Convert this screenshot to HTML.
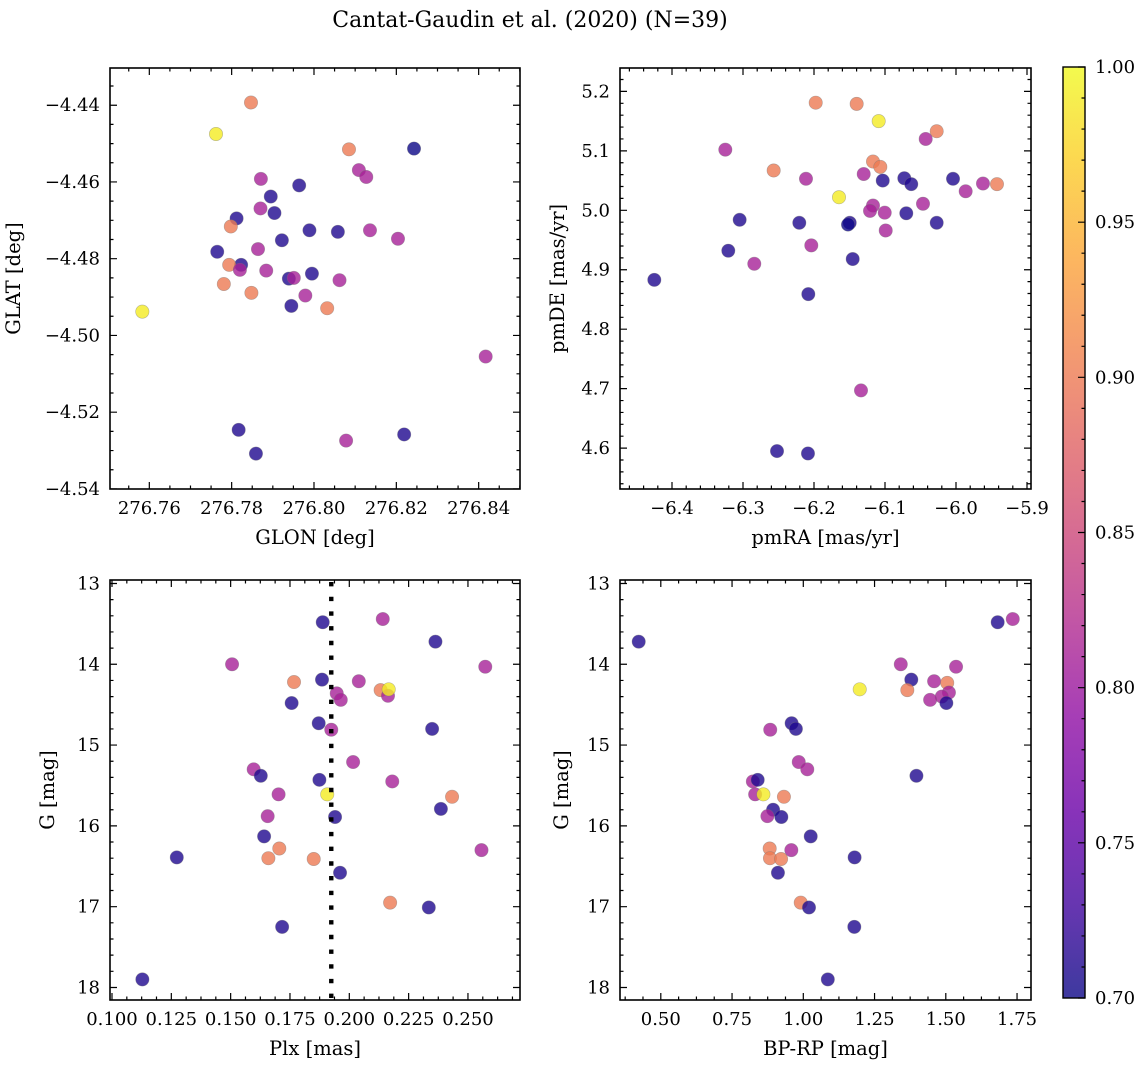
<!DOCTYPE html>
<html><head><meta charset="utf-8">
<style>
html,body{margin:0;padding:0;background:#fff;}
svg{display:block;font-family:"DejaVu Serif","Liberation Serif",serif;}
</style></head>
<body>
<svg id="fig" width="1148" height="1067" viewBox="0 0 1148 1067" xmlns="http://www.w3.org/2000/svg">
<defs>
<linearGradient id="plasmaGrad" x1="0" y1="1" x2="0" y2="0"></linearGradient>
</defs>
<text x="530" y="27" text-anchor="middle" font-size="22" fill="#000">Cantat-Gaudin et al. (2020) (N=39)</text>
</svg>
<script>
// ---- data (per panel) ----
const glon = [276.7847,276.7762,276.8085,276.8243,276.8109,276.8127,276.7871,276.7964,276.7895,276.7870,276.7904,276.7812,276.7798,276.7989,276.8058,276.8136,276.8204,276.7922,276.7765,276.7864,276.7823,276.7794,276.7820,276.7884,276.7939,276.7951,276.7995,276.8062,276.7781,276.7848,276.7979,276.7945,276.8032,276.7583,276.8417,276.8078,276.7817,276.8219,276.7859];
const glat = [-4.4393,-4.4475,-4.4515,-4.4513,-4.4569,-4.4587,-4.4592,-4.4609,-4.4638,-4.4669,-4.4681,-4.4695,-4.4716,-4.4726,-4.4730,-4.4726,-4.4748,-4.4752,-4.4782,-4.4775,-4.4816,-4.4816,-4.4829,-4.4831,-4.4852,-4.4850,-4.4839,-4.4856,-4.4866,-4.4889,-4.4896,-4.4923,-4.4929,-4.4938,-4.5055,-4.5274,-4.5246,-4.5258,-4.5308];
const probA = [0.90,0.99,0.90,0.70,0.81,0.81,0.81,0.71,0.71,0.81,0.71,0.71,0.90,0.71,0.71,0.81,0.81,0.71,0.71,0.81,0.71,0.90,0.81,0.81,0.71,0.81,0.71,0.81,0.90,0.90,0.81,0.71,0.90,0.99,0.81,0.81,0.71,0.71,0.71];

const pmra = [-6.1976,-6.1399,-6.1089,-6.0272,-6.0427,-6.3249,-6.2568,-6.1169,-6.1066,-6.2113,-6.1300,-6.1032,-6.0728,-6.0630,-6.0042,-5.9864,-5.9620,-5.9423,-6.1648,-6.0465,-6.1169,-6.1211,-6.1004,-6.0700,-6.3047,-6.2207,-6.1497,-6.1521,-6.0272,-6.0990,-6.3207,-6.2038,-6.1455,-6.2841,-6.4249,-6.2080,-6.1338,-6.2521,-6.2085];
const pmde = [5.181,5.179,5.150,5.133,5.120,5.102,5.067,5.082,5.073,5.053,5.061,5.050,5.054,5.044,5.053,5.032,5.045,5.044,5.022,5.011,5.008,4.999,4.996,4.995,4.984,4.979,4.979,4.976,4.979,4.966,4.932,4.941,4.918,4.910,4.883,4.859,4.697,4.595,4.591];
const probB = [0.90,0.90,0.99,0.90,0.81,0.81,0.90,0.90,0.90,0.81,0.81,0.71,0.71,0.71,0.71,0.81,0.81,0.90,0.99,0.81,0.81,0.81,0.81,0.71,0.71,0.71,0.71,0.70,0.71,0.81,0.71,0.81,0.71,0.81,0.71,0.71,0.81,0.71,0.71];

const plx = [0.1128,0.1273,0.1506,0.1597,0.1627,0.1702,0.1656,0.1641,0.1705,0.1659,0.1717,0.1767,0.1757,0.1888,0.1885,0.1871,0.1874,0.1907,0.1850,0.1924,0.1947,0.1964,0.1940,0.1961,0.2040,0.2016,0.2141,0.2132,0.2163,0.2166,0.2181,0.2172,0.2335,0.2349,0.2363,0.2386,0.2433,0.2557,0.2573];
const gPlx = [17.90,16.39,14.00,15.30,15.38,15.61,15.88,16.13,16.28,16.40,17.25,14.22,14.48,13.48,14.19,14.73,15.43,15.61,16.41,14.81,14.36,14.44,15.89,16.58,14.21,15.21,13.44,14.32,14.39,14.31,15.45,16.95,17.01,14.80,13.72,15.79,15.64,16.30,14.03];
const probC = [0.71,0.71,0.81,0.81,0.71,0.81,0.81,0.71,0.90,0.90,0.71,0.90,0.71,0.71,0.71,0.71,0.71,0.99,0.90,0.81,0.81,0.81,0.71,0.71,0.81,0.81,0.81,0.90,0.81,0.99,0.81,0.90,0.71,0.71,0.71,0.71,0.90,0.81,0.81];
const plxMean = 0.1924;

const bprp = [0.4225,1.682,1.735,1.342,1.536,1.379,1.459,1.505,1.198,1.365,1.511,1.486,1.445,1.502,0.959,0.974,0.884,0.984,1.014,1.397,0.823,0.840,0.831,0.860,0.932,0.894,0.923,0.874,1.026,0.882,0.958,0.883,0.922,1.180,0.911,0.991,1.020,1.179,1.086];
const gCol = [13.72,13.48,13.44,14.00,14.03,14.19,14.21,14.23,14.31,14.32,14.35,14.40,14.44,14.48,14.73,14.80,14.81,15.21,15.30,15.38,15.45,15.43,15.61,15.61,15.64,15.80,15.89,15.88,16.13,16.28,16.30,16.40,16.41,16.39,16.58,16.95,17.01,17.25,17.90];
const probD = [0.71,0.71,0.81,0.81,0.81,0.71,0.81,0.90,0.99,0.90,0.81,0.81,0.81,0.71,0.71,0.71,0.81,0.81,0.81,0.71,0.81,0.71,0.81,0.99,0.90,0.71,0.71,0.81,0.71,0.90,0.81,0.90,0.90,0.71,0.71,0.90,0.71,0.71,0.71];

const cbTicks = [0.70,0.75,0.80,0.85,0.90,0.95,1.00];

// ---- helpers ----
const NS = "http://www.w3.org/2000/svg";
const svg = document.getElementById('fig');
function mk(tag, attrs, parent){const e=document.createElementNS(NS,tag);for(const k in attrs)e.setAttribute(k,attrs[k]);(parent||svg).appendChild(e);return e;}
const plasmaStops = [[0,[13,8,135]],[0.1,[65,4,157]],[0.2,[106,0,168]],[0.3,[143,13,164]],[0.4,[177,42,144]],[0.5,[204,71,120]],[0.6,[225,100,98]],[0.7,[242,132,75]],[0.8,[252,166,54]],[0.9,[252,206,37]],[1,[240,249,33]]];
function plasma(t){t=Math.max(0,Math.min(1,t));for(let i=1;i<plasmaStops.length;i++){if(t<=plasmaStops[i][0]){const a=plasmaStops[i-1],b=plasmaStops[i];const f=(t-a[0])/(b[0]-a[0]);const c=a[1].map((v,j)=>Math.round(v+(b[1][j]-v)*f));return `rgb(${c[0]},${c[1]},${c[2]})`;}}return 'rgb(240,249,33)';}
const VMIN=0.70,VMAX=1.00;
function col(p){return plasma((p-VMIN)/(VMAX-VMIN));}

const FS=18, FT=19.5;
function panel(cfg){
  const {name,x0,y0,x1,y1,xlim,ylim} = cfg;
  const sx = v => x0 + (v-xlim[0])/(xlim[1]-xlim[0])*(x1-x0);
  const sy = v => y1 - (v-ylim[0])/(ylim[1]-ylim[0])*(y1-y0);
  const g = mk('g',{});
  
  
  const pg = mk('g',{},g);
  
  
  for(let i=0;i<cfg.xs.length;i++){
    const c = mk('circle',{cx:sx(cfg.xs[i]).toFixed(2),cy:sy(cfg.ys[i]).toFixed(2),r:6.7,fill:col(cfg.ps[i]),'fill-opacity':0.8,stroke:'#777','stroke-opacity':0.5,'stroke-width':0.6},pg);
    
    
  }
  if(cfg.extra) cfg.extra(g,sx,sy);
  const fr = mk('rect',{x:x0,y:y0,width:x1-x0,height:y1-y0,fill:'none',stroke:'#000','stroke-width':1.6},g);
  
  
  let d='';
  const inX=v=>v>=xlim[0]-1e-9&&v<=xlim[1]+1e-9, inY=v=>v>=Math.min(...ylim)-1e-9&&v<=Math.max(...ylim)+1e-9;
  function ticksX(vals,len){for(const v of vals){if(!inX(v))continue;const x=sx(v);d+=`M${x} ${y1}v${-len}M${x} ${y0}v${len}`;}}
  function ticksY(vals,len){for(const v of vals){if(!inY(v))continue;const y=sy(v);d+=`M${x0} ${y}h${len}M${x1} ${y}h${-len}`;}}
  ticksX(cfg.xmin,3.5); ticksY(cfg.ymin,3.5); ticksX(cfg.xmaj,7); ticksY(cfg.ymaj,7);
  const tp = mk('path',{d:d,stroke:'#000','stroke-width':1.2,fill:'none'},g);
  
  
  cfg.xmaj.forEach((v,i)=>{const t=mk('text',{x:sx(v),y:y1+25,'text-anchor':'middle','font-size':FS},g);t.textContent=cfg.xlab[i];
    
    });
  cfg.ymaj.forEach((v,i)=>{const t=mk('text',{x:x0-10,y:sy(v)+6,'text-anchor':'end','font-size':FS},g);t.textContent=cfg.ylab[i];
    
    });
  const xt = mk('text',{x:(x0+x1)/2,y:y1+55,'text-anchor':'middle','font-size':FT},g); xt.textContent=cfg.xtitle;
  
  
  const yt = mk('text',{x:0,y:0,'text-anchor':'middle','font-size':FT,transform:`translate(${cfg.ytx},${(y0+y1)/2}) rotate(-90)`},g); yt.textContent=cfg.ytitle;
  
  
}
const rng=(a,b,s)=>{const r=[];for(let v=a;v<=b+s/2;v+=s)r.push(+v.toFixed(6));return r;};

panel({name:'panel-glon-glat',x0:110,y0:68,x1:520,y1:489,xlim:[276.75045,276.85004],ylim:[-4.54002,-4.43030],
  xs:glon,ys:glat,ps:probA,
  xmaj:rng(276.76,276.84,0.02),xlab:['276.76','276.78','276.80','276.82','276.84'],xmin:rng(276.75,276.85,0.005),
  ymaj:rng(-4.54,-4.44,0.02),ylab:['\u22124.54','\u22124.52','\u22124.50','\u22124.48','\u22124.46','\u22124.44'],ymin:rng(-4.54,-4.43,0.005),
  xtitle:'GLON [deg]',ytitle:'GLAT [deg]',ytx:20});
panel({name:'panel-pm',x0:620,y0:68,x1:1031,y1:489,xlim:[-6.47324,-5.89437],ylim:[4.53120,5.23936],
  xs:pmra,ys:pmde,ps:probB,
  xmaj:rng(-6.4,-5.9,0.1),xlab:['\u22126.4','\u22126.3','\u22126.2','\u22126.1','\u22126.0','\u22125.9'],xmin:rng(-6.48,-5.88,0.02),
  ymaj:rng(4.6,5.2,0.1),ylab:['4.6','4.7','4.8','4.9','5.0','5.1','5.2'],ymin:rng(4.52,5.24,0.02),
  xtitle:'pmRA [mas/yr]',ytitle:'pmDE [mas/yr]',ytx:564});
panel({name:'panel-plx-g',x0:110,y0:580,x1:520,y1:1000,xlim:[0.09916,0.27193],ylim:[18.155,12.957],
  xs:plx,ys:gPlx,ps:probC,
  xmaj:rng(0.1,0.25,0.025),xlab:['0.100','0.125','0.150','0.175','0.200','0.225','0.250'],xmin:rng(0.1,0.275,0.00625),
  ymaj:rng(13,18,1),ylab:['13','14','15','16','17','18'],ymin:rng(13,18.2,0.2),
  xtitle:'Plx [mas]',ytitle:'G [mag]',ytx:54,
  extra:(g,sx,sy)=>{const l=mk('line',{x1:sx(plxMean),x2:sx(plxMean),y1:582,y2:1000,stroke:'#000','stroke-width':4.4,'stroke-dasharray':'4.4 10.3'},g);
    
    }});
panel({name:'panel-cmd',x0:620,y0:580,x1:1031,y1:1000,xlim:[0.35684,1.79895],ylim:[18.155,12.957],
  xs:bprp,ys:gCol,ps:probD,
  xmaj:rng(0.5,1.75,0.25),xlab:['0.50','0.75','1.00','1.25','1.50','1.75'],xmin:rng(0.375,1.8,0.0625),
  ymaj:rng(13,18,1),ylab:['13','14','15','16','17','18'],ymin:rng(13,18.2,0.2),
  xtitle:'BP-RP [mag]',ytitle:'G [mag]',ytx:568});

// ---- colorbar ----
(function(){
  const cx0=1063,cx1=1085,cy0=67,cy1=998;
  const grad=document.getElementById('plasmaGrad');
  for(let i=0;i<=20;i++){mk('stop',{offset:(i/20),'stop-color':plasma(i/20),'stop-opacity':0.8},grad);}
  const cb=mk('g',{});
  
  
  mk('rect',{x:cx0,y:cy0,width:cx1-cx0,height:cy1-cy0,fill:'url(#plasmaGrad)'},cb);
  mk('rect',{x:cx0,y:cy0,width:cx1-cx0,height:cy1-cy0,fill:'none',stroke:'#000','stroke-width':1.4},cb);
  const sy=v=>cy1-(v-VMIN)/(VMAX-VMIN)*(cy1-cy0);
  let d='';
  for(let v=0.70;v<=1.0001;v+=0.01){d+=`M${cx1} ${sy(v)}h-3.5`;}
  cbTicks.forEach(v=>{d+=`M${cx1} ${sy(v)}h-7`;});
  mk('path',{d:d,stroke:'#000','stroke-width':1.2},cb);
  cbTicks.forEach(v=>{const t=mk('text',{x:cx1+10,y:sy(v)+6,'font-size':FS},cb);t.textContent=v.toFixed(2);
    
    });
})();
</script>
</body></html>
